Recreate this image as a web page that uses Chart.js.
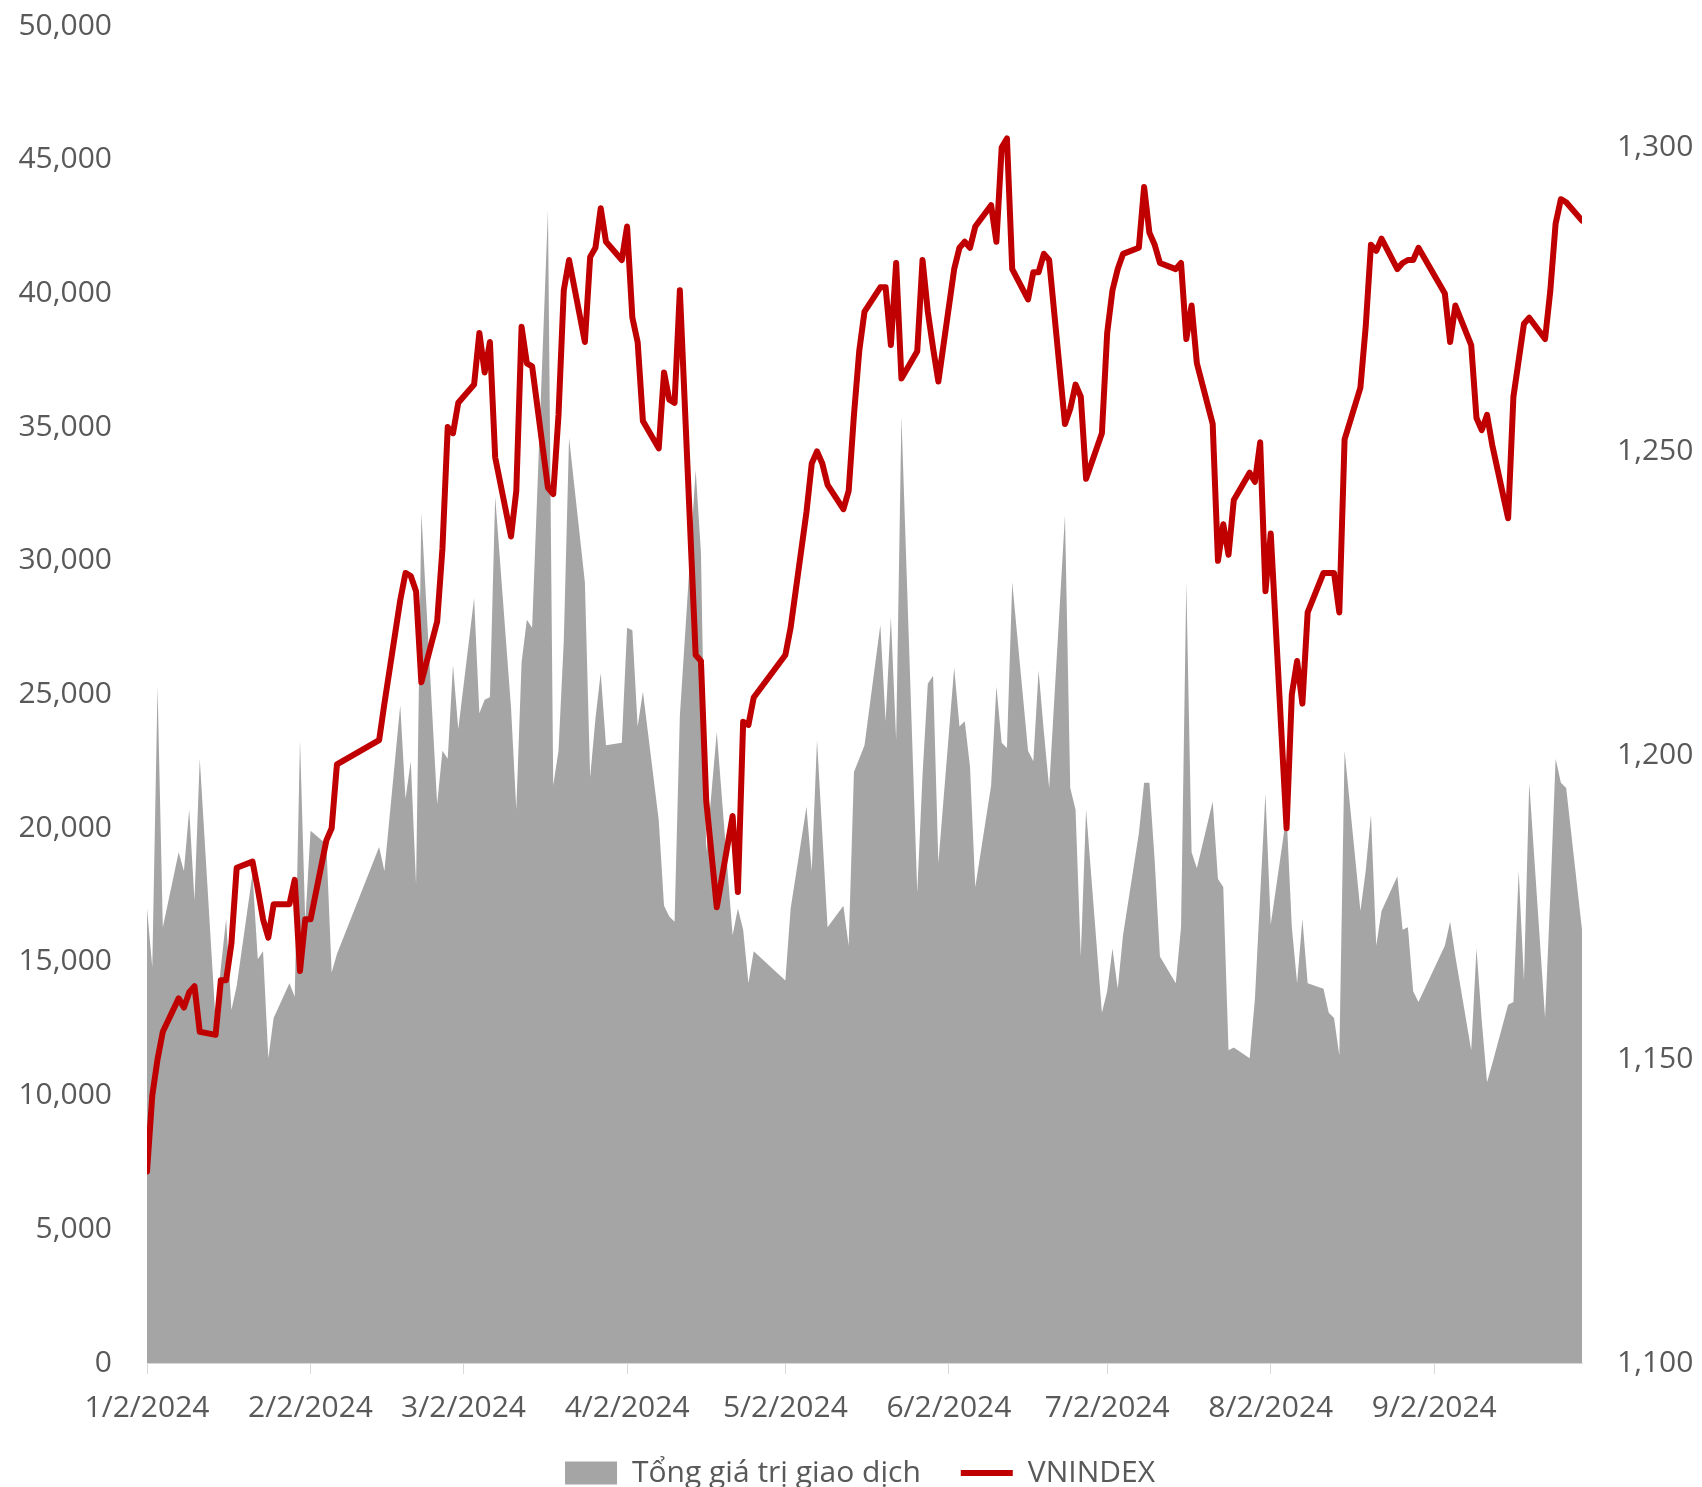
<!DOCTYPE html>
<html>
<head>
<meta charset="utf-8">
<script src="https://cdn.jsdelivr.net/npm/chart.js@4.4.1/dist/chart.umd.min.js"></script>
<style>
  html, body { margin: 0; padding: 0; background: #ffffff; }
  #wrap { width: 1702px; height: 1487px; }
</style>
</head>
<body>
<div id="wrap"><canvas id="theViz" width="1702" height="1487"></canvas></div>
<script>
// trading days of 2024 (M/D)
const tradingDays = [
  '1/2','1/3','1/4','1/5','1/8','1/9','1/10','1/11','1/12','1/15','1/16','1/17','1/18','1/19','1/22','1/23','1/24','1/25','1/26','1/29','1/30','1/31',
  '2/1','2/2','2/5','2/6','2/7','2/15','2/16','2/19','2/20','2/21','2/22','2/23','2/26','2/27','2/28','2/29',
  '3/1','3/4','3/5','3/6','3/7','3/8','3/11','3/12','3/13','3/14','3/15','3/18','3/19','3/20','3/21','3/22','3/25','3/26','3/27','3/28','3/29',
  '4/1','4/2','4/3','4/4','4/5','4/8','4/9','4/10','4/11','4/12','4/15','4/16','4/17','4/19','4/22','4/23','4/24','4/25','4/26',
  '5/2','5/3','5/6','5/7','5/8','5/9','5/10','5/13','5/14','5/15','5/16','5/17','5/20','5/21','5/22','5/23','5/24','5/27','5/28','5/29','5/30','5/31',
  '6/3','6/4','6/5','6/6','6/7','6/10','6/11','6/12','6/13','6/14','6/17','6/18','6/19','6/20','6/21','6/24','6/25','6/26','6/27','6/28',
  '7/1','7/2','7/3','7/4','7/5','7/8','7/9','7/10','7/11','7/12','7/15','7/16','7/17','7/18','7/19','7/22','7/23','7/24','7/25','7/26','7/29','7/30','7/31',
  '8/1','8/2','8/5','8/6','8/7','8/8','8/9','8/12','8/13','8/14','8/15','8/16','8/19','8/20','8/21','8/22','8/23','8/26','8/27','8/28','8/29','8/30',
  '9/4','9/5','9/6','9/9','9/10','9/11','9/12','9/13','9/16','9/17','9/18','9/19','9/20','9/23','9/24','9/25','9/26','9/27','9/30'
];

// Tong gia tri giao dich (left axis)
const totalValue = [
  17000,14800,25300,16300,19100,18400,20700,17300,22600,12800,14800,16600,13200,14100,18300,15100,15400,11400,12900,14200,13700,23300,
  16500,19900,19400,14600,15300,19300,18400,24600,21100,22500,17900,31800,20900,22900,22600,26100,
  23700,28600,24300,24800,24900,32400,24500,20700,26200,27800,27500,43100,21600,22900,27000,34600,29200,21900,24100,25800,23100,
  23200,27500,27400,23800,25100,20300,17100,16700,16500,24200,33400,30300,19100,23600,16000,17000,16200,14200,15400,
  14300,17000,20800,18400,23300,19800,16300,17100,15600,22100,22600,23100,27600,24000,27900,23300,35400,17600,22000,25400,25700,18700,
  26000,23800,24000,22300,17800,21600,25300,23200,23000,29200,22900,22500,25900,23600,21500,31700,21500,20700,15200,20700,
  13100,13900,15500,14000,16000,19800,21700,21700,18800,15200,14200,16300,29200,19100,18500,21000,18100,17800,11700,11800,11400,13600,17500,
  21300,16400,20500,16300,14200,16600,14200,14000,13100,12900,11500,22900,16900,18400,20500,15600,16900,18200,16200,16300,13900,13500,
  15600,16500,15200,11700,15500,12800,10500,11200,13400,13500,18400,14300,21700,12900,17500,22600,21700,21500,16200
];

// VNINDEX (right axis)
const vnIndex = [
  1131.5,1144,1150,1154.5,1160,1158.5,1161,1162,1154.5,1154,1163,1163,1169,1181.5,1182.5,1178,1173,1170,1175.5,1175.5,1179.5,1164.5,
  1173,1173,1186,1188,1198.5,1202.5,1208.5,1225.5,1230,1229.5,1227,1212,1222,1234,1254,1253,
  1258,1261,1269.5,1263,1268,1249,1236,1243.5,1270.5,1264.5,1264,1244,1243,1256,1276.5,1281.5,1268,1282,1283.5,1290,1284.5,
  1281.5,1287,1272,1268,1255,1250.5,1263,1258.5,1258,1276.5,1216.5,1215.5,1192.5,1175,1190,1177.5,1205.5,1205,1209.5,
  1216.5,1221,1240,1248,1250,1248,1244.5,1240.5,1243.5,1256,1266.5,1273,1277,1277,1267.5,1281,1262,1266.5,1281.5,1273,1267,1261.5,
  1280,1283.5,1284.5,1283.5,1287,1290.5,1284.5,1300,1301.5,1280,1275,1279.5,1279.5,1282.5,1281.5,1254.5,1257,1261,1259,1245.5,
  1253,1269.5,1276.5,1280,1282.5,1283.5,1293.5,1286,1284,1281,1280,1281,1268.5,1274,1264.5,1254.5,1232,1238,1233,1242,1246.5,1245,1251.5,
  1227,1236.5,1188,1210,1215.5,1208.5,1223.5,1230,1230,1230,1223.5,1252,1260.5,1270.5,1284,1283,1285,1280,1281,1281.5,1281.5,1283.5,
  1276,1268,1274,1267.5,1255.5,1253.5,1256,1251,1239,1259,1265,1271,1272,1268.5,1276.5,1287.5,1291.5,1291,1288
];

const tickDates = ['1/2/2024','2/2/2024','3/2/2024','4/2/2024','5/2/2024','6/2/2024','7/2/2024','8/2/2024','9/2/2024'];

// days counted from 2 Jan 2024
function dayNum(md) {
  const parts = md.split('/').map(Number);
  return (Date.UTC(2024, parts[0] - 1, parts[1]) - Date.UTC(2024, 0, 2)) / 86400000;
}

const xs = tradingDays.map(dayNum);
const tickDays = tickDates.map(dayNum);

Chart.defaults.font.family = "'Open Sans', sans-serif";
Chart.defaults.font.size = 30;
Chart.defaults.color = '#595959';

const ctx = document.getElementById('theViz').getContext('2d');
window.theViz = new Chart(ctx, {
  type: 'line',
  data: {
    datasets: [{
      label: 'Tổng giá trị giao dịch',
      data: xs.map((x, i) => ({ x: x, y: totalValue[i] })),
      yAxisID: 'y',
      fill: 'origin',
      backgroundColor: '#A5A5A5',
      borderWidth: 0,
      pointRadius: 0,
      order: 2
    }, {
      label: 'VNINDEX',
      data: xs.map((x, i) => ({ x: x, y: vnIndex[i] })),
      yAxisID: 'y1',
      fill: false,
      borderColor: '#C00000',
      borderWidth: 6,
      borderJoinStyle: 'round',
      borderCapStyle: 'round',
      pointRadius: 0,
      order: 1
    }]
  },
  options: {
    responsive: false,
    animation: false,
    devicePixelRatio: 1,
    layout: { padding: { top: 26, bottom: -11, left: 18, right: 0 } },
    scales: {
      x: {
        type: 'linear',
        min: 0,
        max: dayNum('9/30'),
        afterBuildTicks: (axis) => { axis.ticks = tickDays.map(v => ({ value: v })); },
        afterFit: (scale) => { scale.height = 55; },
        grid: { drawOnChartArea: false, drawTicks: true, tickLength: 11, color: '#D9D9D9' },
        border: { display: true, color: '#D9D9D9', width: 1 },
        ticks: {
          autoSkip: false,
          maxRotation: 0,
          padding: 16,
          callback: (v) => tickDates[tickDays.indexOf(v)]
        }
      },
      y: {
        position: 'left',
        min: 0,
        max: 50000,
        afterFit: (scale) => { scale.width = 129; },
        grid: { display: false, drawTicks: true, tickLength: 35 },
        border: { display: false },
        ticks: { stepSize: 5000, padding: 0 }
      },
      y1: {
        position: 'right',
        min: 1100,
        max: 1320,
        afterFit: (scale) => { scale.width = 120; },
        grid: { display: false, drawTicks: true, tickLength: 35 },
        border: { display: false },
        ticks: { stepSize: 50, padding: 0, includeBounds: false }
      }
    },
    plugins: {
      tooltip: { enabled: false },
      legend: {
        position: 'bottom',
        labels: {
          usePointStyle: true,
          pointStyleWidth: 52,
          boxHeight: 23,
          padding: 40,
          color: '#595959',
          generateLabels: () => [
            { text: 'Tổng giá trị giao dịch', fillStyle: '#A5A5A5', strokeStyle: '#A5A5A5', lineWidth: 0, pointStyle: 'rect', datasetIndex: 0, fontColor: '#595959' },
            { text: 'VNINDEX', fillStyle: '#C00000', strokeStyle: '#C00000', lineWidth: 6, pointStyle: 'line', datasetIndex: 1, fontColor: '#595959' }
          ]
        }
      }
    }
  }
});
</script>
</body>
</html>
